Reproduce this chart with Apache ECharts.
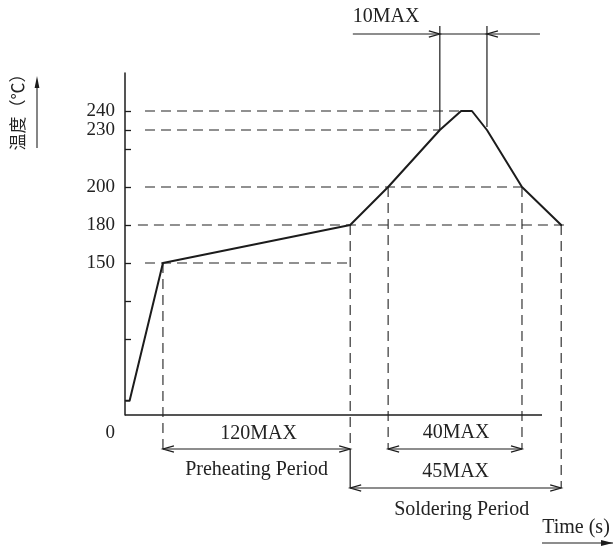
<!DOCTYPE html>
<html><head><meta charset="utf-8">
<script src="https://cdn.jsdelivr.net/npm/echarts@6/dist/echarts.min.js"></script>
<style>html,body{margin:0;padding:0;background:#fff}#c{width:613px;height:546px}</style>
</head><body><div id="c"></div><script>
// ---------------- data ----------------
// labelled temperatures on the (schematic) temperature axis, °C
const tempLabels = [150, 180, 200, 230, 240];
// reflow profile: schematic time positions (axis has no scale) and temperatures
const profileTime = [0.2, 1.1, 9.1, 54.0, 63.1, 75.5, 80.6, 83.2, 86.8, 95.2, 104.6];
const profileTemp = [14, 14, 150, 180, 200, 230, 240, 240, 230, 200, 180];
// dimension annotations
const spanLabels = ['120MAX', '40MAX', '45MAX', '10MAX'];
const periodLabels = ['Preheating Period', 'Soldering Period'];
const axisNames = ['温度（℃）', 'Time (s)'];
const originLabel = '0';
// the figure's temperature axis is drawn non-linearly: knots of that scale
const scaleTemps = [0, 150, 180, 240];
const scaleRows = [0, 8, 10, 16];
const tickRows = [4, 6, 8, 10, 12, 14, 15, 16];

// ---------------- helpers ----------------
function rowOf(t) {
  for (let i = 1; i < scaleTemps.length; i++) {
    if (t <= scaleTemps[i] || i === scaleTemps.length - 1) {
      const a = scaleTemps[i - 1], b = scaleTemps[i];
      return scaleRows[i - 1] + (t - a) / (b - a) * (scaleRows[i] - scaleRows[i - 1]);
    }
  }
}
function labelOfRow(r) {
  for (const t of tempLabels) if (Math.abs(rowOf(t) - r) < 1e-6) return String(t);
  return '';
}
const SERIF = '"Liberation Serif", "DejaVu Serif", serif';
const INK = '#1c1c1c';
const idx = { t150: 2, t180: 3, t200: 4, t230: 5, pk0: 6, pk1: 7, t230b: 8, t200b: 9, t180b: 10 };
const axisLineEnd = 100; // drawn length of the time axis line

const chart = echarts.init(document.getElementById('c'), null, { renderer: 'canvas' });

// horizontal dashed guides: [temperature, start time, end time]
const guideStart = 4.8;
const hGuides = [
  [240, guideStart, profileTime[idx.pk0]],
  [230, guideStart, profileTime[idx.t230]],
  [200, guideStart, profileTime[idx.t200b]],
  [180, 3.1, profileTime[idx.t180b] + 1.4],
  [150, guideStart, profileTime[idx.t180]]
];
const dash = { type: [10, 6], width: 1.1, color: '#222' };

const series = [{
  type: 'line',
  data: profileTime.map((t, i) => [t, rowOf(profileTemp[i])]),
  symbol: 'none', clip: false, z: 5, silent: true,
  lineStyle: { color: INK, width: 2, join: 'round', cap: 'round' }
}];
hGuides.forEach(g => series.push({
  type: 'line', symbol: 'none', clip: false, silent: true, z: 3,
  data: [[g[1], rowOf(g[0])], [g[2], rowOf(g[0])]],
  lineStyle: dash
}));

chart.setOption({
  animation: false,
  backgroundColor: '#fff',
  grid: { left: 125, right: 29.3, top: 73, bottom: 131 },
  xAxis: {
    type: 'value', min: 0, max: 110,
    axisLine: { show: false },
    axisTick: { show: false }, splitLine: { show: false },
    axisLabel: {
      customValues: [0], formatter: () => originLabel, margin: 9,
      align: 'right', padding: [0, 10, 0, 0],
      fontFamily: SERIF, fontSize: 19, color: '#222'
    }
  },
  yAxis: {
    type: 'value', min: 0, max: 18,
    axisLine: { show: true, lineStyle: { color: INK, width: 1.5 } },
    axisTick: { show: true, inside: true, length: 6, customValues: tickRows, lineStyle: { color: INK, width: 1.3 } },
    splitLine: { show: false },
    axisLabel: {
      customValues: tempLabels.map(rowOf), formatter: v => labelOfRow(v),
      margin: 10, fontFamily: SERIF, fontSize: 19, color: '#222'
    }
  },
  series
});

// ---------------- annotations (positions derived from data via the chart's scales) ----------------
const P = (t, temp) => chart.convertToPixel({ gridIndex: 0 }, [t, rowOf(temp)]);
const X = i => P(profileTime[i], 0)[0];
const Y = temp => P(0, temp)[1];

const els = [];
const lineStyleSolid = { stroke: INK, lineWidth: 1.2 };
const lineStyleDash = { stroke: '#222', lineWidth: 1.1, lineDash: [10, 6] };
function seg(x1, y1, x2, y2, style) {
  els.push({ type: 'line', shape: { x1, y1, x2, y2 }, style: Object.assign({}, style), silent: true });
}
function head(x, y, dir) { // dir: 1 right, -1 left
  const pts = [[x - dir * 11, y - 3.2], [x, y], [x - dir * 11, y + 3.2]];
  els.push({ type: 'polyline', shape: { points: pts }, style: { stroke: INK, lineWidth: 1.3, fill: null }, silent: true });
}
function dimArrow(xa, xb, y) { seg(xa, y, xb, y, lineStyleSolid); head(xa, y, -1); head(xb, y, 1); }
function txt(text, x, y, size, align, family, rot) {
  els.push({
    type: 'text', x, y, rotation: rot || 0, silent: true,
    style: { text, fill: '#222', fontSize: size, fontFamily: family || SERIF,
      align: align || 'center', verticalAlign: 'middle', textAlign: align || 'center', textVerticalAlign: 'middle' }
  });
}

// time axis line (origin to the drawn end)
const o = P(0, 0);
seg(o[0], o[1], P(axisLineEnd, 0)[0], o[1], { stroke: INK, lineWidth: 1.5 });

const yArrow1 = 449, yArrow2 = 488, yTop = 34;
// vertical dashed guides
seg(X(idx.t150), Y(150), X(idx.t150), yArrow1, lineStyleDash);
seg(X(idx.t180), Y(180), X(idx.t180), yArrow1, lineStyleDash);
seg(X(idx.t180), yArrow1, X(idx.t180), yArrow2, lineStyleSolid);
seg(X(idx.t200), Y(200), X(idx.t200), yArrow1, lineStyleDash);
seg(X(idx.t200b), Y(200), X(idx.t200b), yArrow1, lineStyleDash);
seg(X(idx.t180b), Y(180), X(idx.t180b), yArrow2, lineStyleDash);
// dimension arrows
dimArrow(X(idx.t150), X(idx.t180), yArrow1);
dimArrow(X(idx.t200), X(idx.t200b), yArrow1);
dimArrow(X(idx.t180), X(idx.t180b), yArrow2);
// 10MAX
const xa = X(idx.t230), xb = X(idx.t230b);
seg(xa, 26, xa, Y(230), lineStyleSolid);
seg(xb, 26, xb, Y(230) - 3, lineStyleSolid);
seg(xa - 87, yTop, xb + 53, yTop, lineStyleSolid);
head(xa, yTop, 1); head(xb, yTop, -1);
// labels
txt(spanLabels[0], (X(idx.t150) + X(idx.t180)) / 2 + 2, 434, 20);
txt(periodLabels[0], (X(idx.t150) + X(idx.t180)) / 2, 470, 20);
txt(spanLabels[1], (X(idx.t200) + X(idx.t200b)) / 2 + 1, 433, 20);
txt(spanLabels[2], (X(idx.t180) + X(idx.t180b)) / 2, 472, 20);
txt(periodLabels[1], (X(idx.t180) + X(idx.t180b)) / 2 + 6, 510, 20);
txt(spanLabels[3], xa - 87, 17, 20, 'left');
txt(axisNames[1], 576, 528, 20);
// time arrow
seg(542, 543, 613, 543, lineStyleSolid);
els.push({ type: 'polygon', shape: { points: [[613, 543], [601, 540], [601, 546]] }, style: { fill: INK }, silent: true });
// temperature axis name + arrow
txt(axisNames[0], 18, 108, 17, 'center', '"Noto Sans CJK SC", sans-serif', Math.PI / 2);
seg(37, 148, 37, 84, { stroke: '#444', lineWidth: 1.3 });
els.push({ type: 'polygon', shape: { points: [[37, 76], [34.6, 88], [39.4, 88]] }, style: { fill: INK }, silent: true });

chart.setOption({ graphic: { elements: els } });
</script></body></html>
